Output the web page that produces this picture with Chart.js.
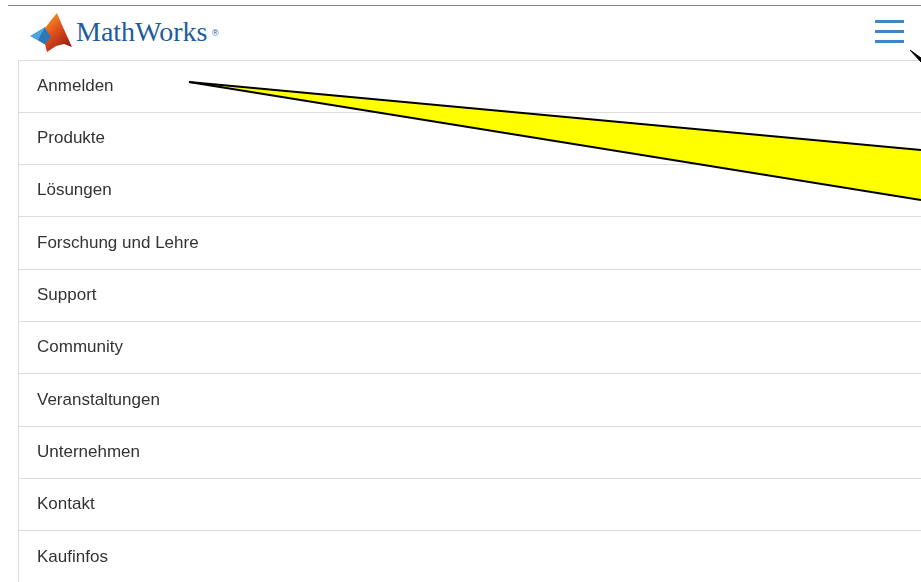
<html lang="de">
<head>
<meta charset="UTF-8">
<script src="https://cdn.jsdelivr.net/npm/chart.js@4.4.1/dist/chart.umd.min.js"></script>
<title>MathWorks Menü</title>
<style>
    html, body { margin: 0; padding: 0; width: 921px; height: 582px; overflow: hidden; background: #fff; }
    #topline { position: absolute; top: 5px; left: 8px; width: 913px; height: 1px; background: #8a8a8a; }
    #logo { position: absolute; left: 28px; top: 12px; }
    #brand { position: absolute; left: 76px; top: 16px; font-family: "Liberation Serif", serif; font-size: 28px; color: #1d5d9b; white-space: nowrap; }
    #reg { position: absolute; left: 212px; top: 28px; font-family: "Liberation Sans", sans-serif; font-size: 9px; color: #1d5d9b; }
    .bar { position: absolute; left: 875px; width: 29px; height: 3px; background: #3f86c9; }
    #menu { position: absolute; left: 0; top: 59px; }
    #overlay { position: absolute; left: 0; top: 0; pointer-events: none; }
</style>
</head>
<body>
    <div id="topline"></div>
    <svg id="logo" width="46" height="42" viewBox="28 12 46 42">
        <defs>
            <linearGradient id="peak" x1="0" y1="0" x2="0.6" y2="1">
                <stop offset="0" stop-color="#f6a623"/>
                <stop offset="0.5" stop-color="#e0521c"/>
                <stop offset="1" stop-color="#9e2016"/>
            </linearGradient>
        </defs>
        <polygon points="30,36 45,27 52,37 46,45" fill="#4ea4dc"/>
        <polygon points="45,27 52,37 46,45 38,40" fill="#2f78b8"/>
        <polygon points="45,28 52,19 57,13 62,25 72,47 64,44 56,46 47,52 45,44 51,37" fill="url(#peak)"/>
    </svg>
    <div id="brand">MathWorks</div>
    <div id="reg">®</div>
    <div class="bar" style="top:20px"></div>
    <div class="bar" style="top:30px"></div>
    <div class="bar" style="top:40px"></div>

    <canvas id="menu" width="921" height="525"></canvas>
    <canvas id="overlay" width="921" height="582"></canvas>

    <script>
        // menu entries (one row each)
        var menuItems = ["Anmelden", "Produkte", "Lösungen", "Forschung und Lehre", "Support",
            "Community", "Veranstaltungen", "Unternehmen", "Kontakt", "Kaufinfos"];

        // callout pointing at "Anmelden" (page pixels)
        var calloutX = [189, 921];
        var calloutTop = [82, 150];
        var calloutBottom = [82, 200];

        // small callout tip near the menu icon
        var tipX = [910, 921];
        var tipTop = [50, 58];
        var tipBottom = [50, 62];

        function pts(xs, ys) {
            return xs.map(function (x, i) { return { x: x, y: ys[i] }; });
        }

        new Chart(document.getElementById('menu').getContext('2d'), {
            type: 'bar',
            data: {
                labels: menuItems,
                datasets: [{ data: [] }]
            },
            options: {
                indexAxis: 'y',
                responsive: false,
                animation: false,
                layout: { padding: { top: 1, left: 0, right: 0, bottom: 1 } },
                plugins: { legend: { display: false }, tooltip: { enabled: false } },
                scales: {
                    x: { display: false, min: 0, max: 1 },
                    y: {
                        offset: true,
                        afterFit: function (s) {
                            s.width = 18;
                            s.paddingTop = 0;
                            s.paddingBottom = 0;
                        },
                        border: { display: true, color: '#dcdcdc', width: 1 },
                        grid: { offset: true, color: '#dcdcdc', lineWidth: 1, drawTicks: false },
                        ticks: {
                            mirror: true,
                            padding: 19,
                            color: '#333',
                            font: { family: '"Liberation Sans", Arial, sans-serif', size: 17 }
                        }
                    }
                }
            }
        });

        new Chart(document.getElementById('overlay').getContext('2d'), {
            type: 'line',
            data: {
                datasets: [
                    { data: pts(calloutX, calloutTop), borderColor: '#000', borderWidth: 2, pointRadius: 0, fill: false },
                    { data: pts(calloutX, calloutBottom), borderColor: '#000', borderWidth: 2, pointRadius: 0,
                      fill: '-1', backgroundColor: '#ffff00' },
                    { data: pts(tipX, tipTop), borderColor: '#000', borderWidth: 1, pointRadius: 0, fill: false },
                    { data: pts(tipX, tipBottom), borderColor: '#000', borderWidth: 1, pointRadius: 0,
                      fill: '-1', backgroundColor: '#000' }
                ]
            },
            options: {
                responsive: false,
                animation: false,
                layout: { padding: 0 },
                plugins: { legend: { display: false }, tooltip: { enabled: false } },
                scales: {
                    x: { type: 'linear', display: false, min: 0, max: 921 },
                    y: { type: 'linear', display: false, min: 0, max: 582, reverse: true }
                }
            }
        });
    </script>
</body>
</html>
